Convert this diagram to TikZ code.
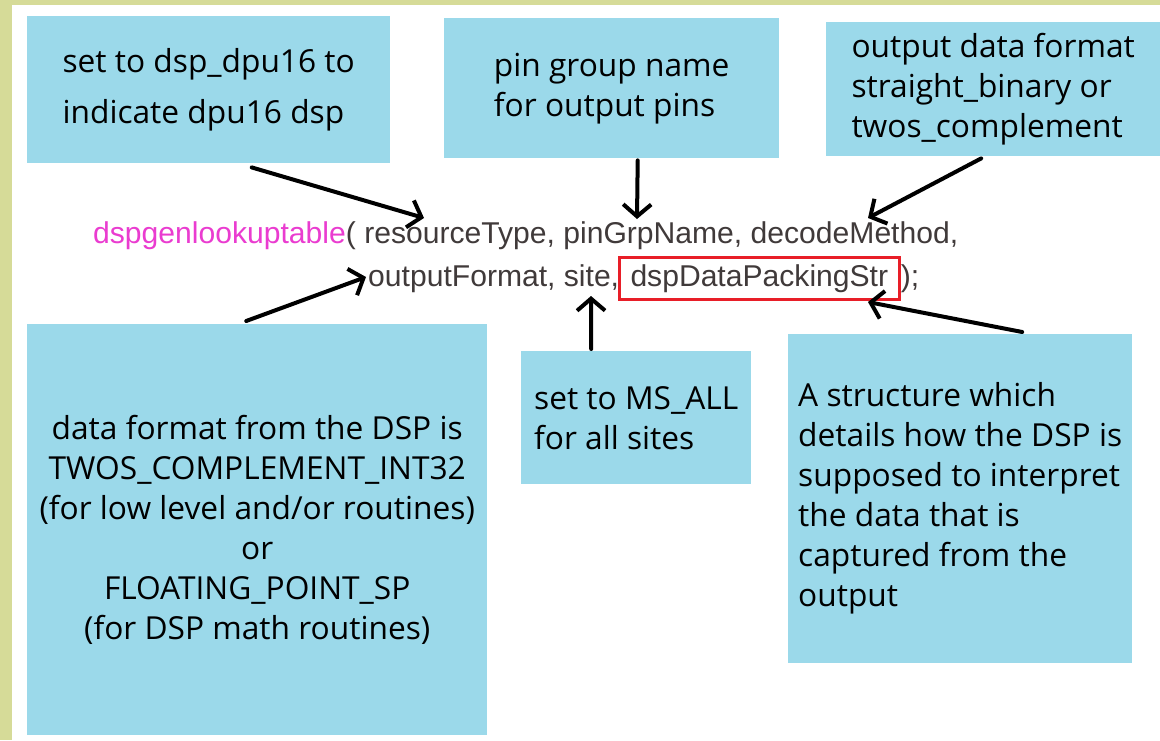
\documentclass[tikz,border=0pt]{standalone}
\usepackage{fontspec}
\setmainfont{Open Sans}
\newfontfamily\codefont{Liberation Sans}
\usetikzlibrary{arrows.meta}
\definecolor{notefill}{RGB}{155,217,234}
\definecolor{framecol}{RGB}{214,219,152}
\definecolor{codegray}{RGB}{64,58,58}
\definecolor{fnmagenta}{RGB}{234,60,208}
\definecolor{boxred}{RGB}{232,30,40}
\tikzset{
	note/.style={shape=rectangle, fill=notefill, anchor=north west, inner sep=0pt,
		align=left, font=\fontsize{31.7}{40}\selectfont},
	codetext/.style={anchor=base west, inner sep=0pt, text=codegray,
		font=\codefont\fontsize{30.1}{36}\selectfont},
	pointer/.style={-{Straight Barb[length=12pt, width=28pt]}, line width=4pt,
		line cap=round, line join=round}
}
\begin{document}
\begin{tikzpicture}[x=1pt, y=-1pt]
			\useasboundingbox (0,0) rectangle (1160,740);
			%Background and frame:
			\fill[white] (0,0) rectangle (1160,740);
			\fill[framecol] (0,0) rectangle (12,740);
			\fill[framecol] (0,0) rectangle (1160,5);
			%Top notes:
			\node[note, minimum width=363pt, minimum height=147pt] (dpu) at (27,16)
				{set to dsp\_dpu16 to\\[11pt]indicate dpu16 dsp};
			\node[note, minimum width=335pt, minimum height=140pt] (pins) at (444,18)
				{pin group name\\for output pins};
			\node[note, minimum width=334pt, minimum height=134pt] (fmt) at (826,22)
				{output data format\\straight\_binary or\\twos\_complement};
			%Function call:
			\node[codetext] (call) at (93,243)
				{{\color{fnmagenta}dspgenlookuptable}( resourceType, pinGrpName, decodeMethod,};
			\node[codetext] (args) at (368,286) {outputFormat, site,};
			\node[codetext, draw=boxred, line width=3pt, inner xsep=11pt, inner ysep=7pt] (packing) at (618,286)
				{dspDataPackingStr};
			\node[codetext] (close) at (packing.base east) {);};
			%Bottom notes:
			\node[note, align=center, minimum width=460pt, minimum height=411pt] (dsp) at (27,324)
				{data format from the DSP is\\TWOS\_COMPLEMENT\_INT32\\(for low level and/or routines)\\or\\FLOATING\_POINT\_SP\\(for DSP math routines)};
			\node[note, minimum width=230pt, minimum height=133pt] (site) at (521,351)
				{set to MS\_ALL\\for all sites};
			\node[note, minimum width=344pt, minimum height=329pt] (pack) at (788,334)
				{A structure which\\details how the DSP is\\supposed to interpret\\the data that is\\captured from the\\output};
			%Arrow tips:
			\coordinate (tipres) at (424,218);
			\coordinate (tippin) at (637,219);
			\coordinate (tipdec) at (868,218);
			\coordinate (tipfmt) at (366,277);
			\coordinate (tipsite) at (591,296);
			\coordinate (tippack) at (868,302);
			%Pointers:
			\draw[pointer] ([xshift=43pt, yshift=-4pt]dpu.south) -- (tipres);
			\draw[pointer] ([xshift=26pt, yshift=-2pt]pins.south) -- (tippin);
			\draw[pointer] ([xshift=-12pt, yshift=-2pt]fmt.south) -- (tipdec);
			\draw[pointer] ([xshift=-11pt, yshift=3pt]dsp.north) -- (tipfmt);
			\draw[pointer] ([xshift=-45pt, yshift=2pt]site.north) -- (tipsite);
			\draw[pointer] ([xshift=62pt, yshift=2pt]pack.north) -- (tippack);
\end{tikzpicture}
\end{document}
